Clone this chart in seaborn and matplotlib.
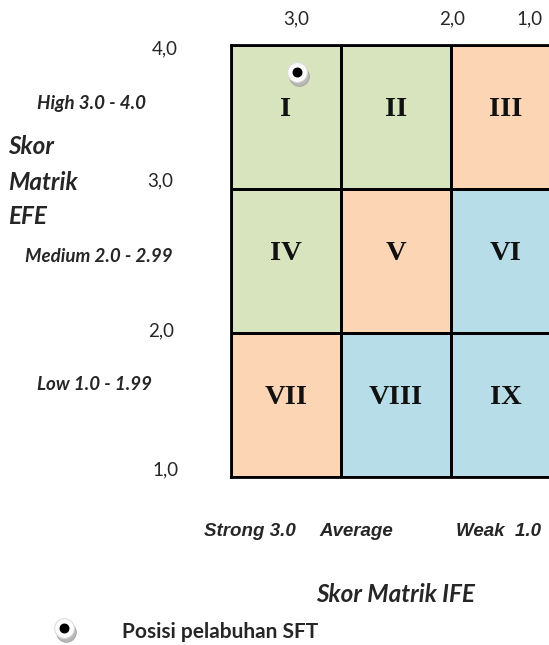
import matplotlib
matplotlib.use('Agg')
import matplotlib.pyplot as plt
from matplotlib.colors import ListedColormap
from matplotlib.transforms import offset_copy
import numpy as np
import seaborn as sns

# IE matrix zones (0 = grow/build, 1 = hold/maintain, 2 = harvest/divest)
zone_codes = [[0, 0, 1],
              [0, 1, 2],
              [1, 2, 2]]
cell_labels = [['I', 'II', 'III'],
               ['IV', 'V', 'VI'],
               ['VII', 'VIII', 'IX']]
zone_colors = ['#D7E4BD', '#FCD5B5', '#B7DEE8']

efe_ticks = ['4,0', '3,0', '2,0', '1,0']
efe_levels = ['High 3.0 - 4.0', 'Medium 2.0 - 2.99', 'Low 1.0 - 1.99']
ife_ticks = ['3,0', '2,0', '1,0']
ife_levels = ['Strong 3.0', 'Average', 'Weak  1.0']

# position of the port (IFE score, EFE score)
ife_score = 3.40
efe_score = 3.81

W, H = 549, 645
fig = plt.figure(figsize=(W / 100, H / 100), dpi=100)
sns.set_style('white')
plt.rcParams['font.family'] = ['Lato', 'DejaVu Sans']


def fx(px):
    return px / W


def fy(py):
    return 1 - py / H


# matrix axes: left edge at x=231, cells ~110 px wide, 144 px tall
ax = fig.add_axes([fx(231), fy(477), fx(561) - fx(231), fy(45) - fy(477)])
sns.heatmap(np.array(zone_codes), cmap=ListedColormap(zone_colors), vmin=-0.5, vmax=2.5,
            cbar=False, linewidths=2, linecolor='black', ax=ax)
ax.set_xticks([])
ax.set_yticks([])
for sp in ax.spines.values():
    sp.set_visible(True)
    sp.set_color('black')
    sp.set_linewidth(2)

for i, row in enumerate(cell_labels):
    for j, lab in enumerate(row):
        ax.text(j + 0.5, i + 0.45, lab, ha='center', va='center', fontsize=20.5,
                fontweight='bold', family='Liberation Serif', color='#111111')

# marker for the port position (heatmap coords: x runs 4 -> 1, y runs 4 -> 1 downward)
mx, my = 4 - ife_score, 4 - efe_score


def draw_marker(axis, x, y, transform):
    shadow = offset_copy(transform, fig=fig, x=2, y=-4, units='dots')
    axis.scatter([x], [y], s=200, color='#b8b8b8', edgecolor='#999999', linewidth=0.5,
                 transform=shadow, clip_on=False, zorder=5)
    axis.scatter([x], [y], s=200, color='white', edgecolor='#dddddd', linewidth=0.8,
                 transform=transform, clip_on=False, zorder=6)
    axis.scatter([x], [y], s=38, color='black', transform=transform, clip_on=False, zorder=7)


draw_marker(ax, mx, my, ax.transData)

# left (EFE) tick labels and levels
efe_tick_pos = [(178, 49), (173, 181), (174, 331), (179, 470)]
for lab, (x, y) in zip(efe_ticks, efe_tick_pos):
    fig.text(fx(x), fy(y), lab, ha='right', va='center', fontsize=13.5)

efe_level_pos = [(146, 103), (173, 257), (152, 385)]
for lab, (x, y) in zip(efe_levels, efe_level_pos):
    fig.text(fx(x), fy(y), lab, ha='right', va='center', fontsize=13.5,
             fontweight='bold', style='italic')

for lab, y in zip(['Skor', 'Matrik', 'EFE'], [146, 182, 216]):
    fig.text(fx(8), fy(y), lab, ha='left', va='center', fontsize=17.5,
             fontweight='bold', style='italic')

# top (IFE) tick labels
ife_tick_x = [296, 452, 530]
for lab, x in zip(ife_ticks, ife_tick_x):
    fig.text(fx(x), fy(19), lab, ha='center', va='center', fontsize=13.5)

ife_level_x = [204, 319, 456]
for lab, x in zip(ife_levels, ife_level_x):
    fig.text(fx(x), fy(531), lab, ha='left', va='center', fontsize=13.5,
             fontweight='bold', style='italic', family='Liberation Sans')

fig.text(fx(395), fy(594), 'Skor Matrik IFE', ha='center', va='center', fontsize=17.5,
         fontweight='bold', style='italic')

# legend
lax = fig.add_axes([0, 0, 1, 1])
lax.set_axis_off()
lax.set_xlim(0, W)
lax.set_ylim(H, 0)
draw_marker(lax, 64, 628, lax.transData)
fig.text(fx(122), fy(632), 'Posisi pelabuhan SFT', ha='left', va='center', fontsize=15,
         fontweight='bold')

fig.savefig('out.png', dpi=100)
